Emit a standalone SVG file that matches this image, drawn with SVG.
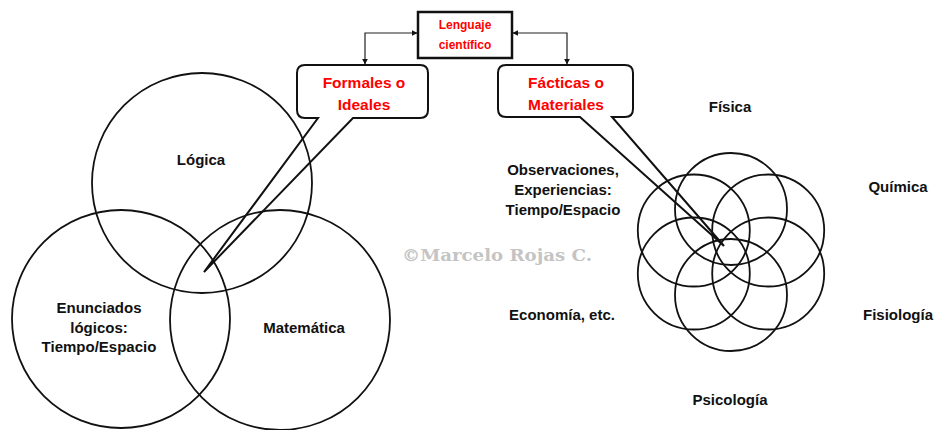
<svg xmlns="http://www.w3.org/2000/svg" width="935" height="430" viewBox="0 0 935 430">
<style>
.c{fill:none;stroke:#111;stroke-width:1.8}
.co{fill:none;stroke:#111;stroke-width:2;stroke-linejoin:miter}
.t{font-family:"Liberation Sans",Arial,sans-serif;font-weight:bold;font-size:15px;fill:#111;text-anchor:middle}
.r{font-family:"Liberation Sans",Arial,sans-serif;font-weight:bold;font-size:15.5px;fill:#ff0000;text-anchor:middle}
.rs{font-family:"Liberation Sans",Arial,sans-serif;font-weight:bold;font-size:12px;fill:#ff0000;text-anchor:middle}
.wm{font-family:"DejaVu Serif","Liberation Serif",serif;font-weight:bold;font-size:17px;fill:#c4c4c4;text-anchor:middle}
.cn{fill:none;stroke:#222;stroke-width:1.2}
</style>
<defs>
<marker id="ah" viewBox="0 0 10 10" refX="9" refY="5" markerWidth="6" markerHeight="6" orient="auto-start-reverse" markerUnits="userSpaceOnUse">
<path d="M0,0 L10,5 L0,10 Z" fill="#111"/>
</marker>
</defs>
<rect width="935" height="430" fill="#ffffff"/>

<text class="wm" x="497" y="261" textLength="190" lengthAdjust="spacingAndGlyphs">©Marcelo Rojas C.</text>

<g id="venn-formales">
<circle class="c" cx="202" cy="183" r="110"/>
<circle class="c" cx="121" cy="319" r="109"/>
<circle class="c" cx="280" cy="320" r="110"/>
</g>

<g id="flor-facticas">
<circle class="c" cx="731" cy="209" r="56"/>
<circle class="c" cx="731" cy="295" r="56"/>
<circle class="c" cx="768.2" cy="230.5" r="56"/>
<circle class="c" cx="768.2" cy="273.5" r="56"/>
<circle class="c" cx="693.8" cy="230.5" r="56"/>
<circle class="c" cx="693.8" cy="273.5" r="56"/>
</g>

<g id="lenguaje">
<rect x="418" y="12" width="94" height="46" fill="#fff" stroke="#111" stroke-width="2.5"/>
<text class="rs" x="465" y="29">Lenguaje</text>
<text class="rs" x="465" y="49">científico</text>
</g>

<g id="formales">
<path class="co" d="M305,65 H420 Q428,65 428,73 V110 Q428,118 420,118 H353 L204,272 L318,118 H305 Q297,118 297,110 V73 Q297,65 305,65 Z"/>
<text class="r" x="364" y="88">Formales o</text>
<text class="r" x="364" y="110">Ideales</text>
</g>

<g id="facticas">
<path class="co" d="M506,65 H625 Q633,65 633,73 V109 Q633,117 625,117 H612 L724,246 L580,117 H506 Q498,117 498,109 V73 Q498,65 506,65 Z"/>
<text class="r" x="566" y="88">Fácticas o</text>
<text class="r" x="566" y="110">Materiales</text>
</g>

<g id="connectors">
<path class="cn" d="M417,33 H365 V64" marker-start="url(#ah)" marker-end="url(#ah)"/>
<path class="cn" d="M513,33 H567 V64" marker-start="url(#ah)" marker-end="url(#ah)"/>
</g>

<g id="labels-formales">
<text class="t" x="201" y="165">Lógica</text>
<text class="t" x="99" y="313">Enunciados</text>
<text class="t" x="99" y="333">lógicos:</text>
<text class="t" x="99" y="352">Tiempo/Espacio</text>
<text class="t" x="304" y="333">Matemática</text>
</g>

<g id="labels-facticas">
<text class="t" x="730" y="112">Física</text>
<text class="t" x="898" y="192">Química</text>
<text class="t" x="898" y="320">Fisiología</text>
<text class="t" x="730" y="405">Psicología</text>
<text class="t" x="562" y="320">Economía, etc.</text>
<text class="t" x="563" y="175">Observaciones,</text>
<text class="t" x="563" y="195">Experiencias:</text>
<text class="t" x="563" y="215">Tiempo/Espacio</text>
</g>
</svg>
